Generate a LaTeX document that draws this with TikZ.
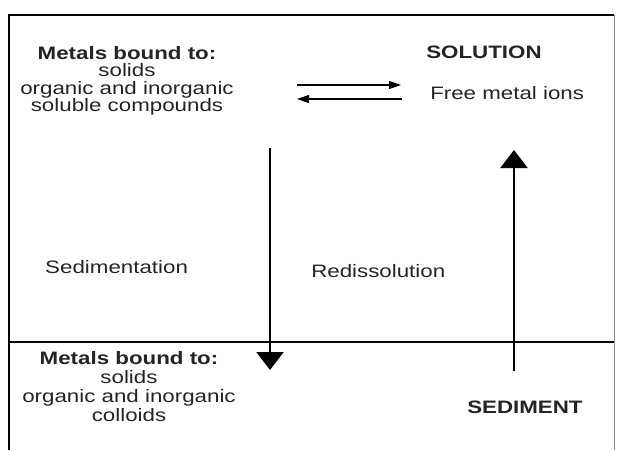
\documentclass[tikz,border=0pt]{standalone}
\usepackage{fontspec}
\setmainfont{Liberation Sans}
\usetikzlibrary{arrows.meta}
\definecolor{txt}{RGB}{35,35,40}
\begin{document}
\begin{tikzpicture}[x=1pt,y=-1pt,
  lbl/.style={inner sep=0pt,text=txt,xscale=1.24,font=\fontsize{18}{17.5}\selectfont},
  blk/.style={lbl,align=center},
  bigarrow/.style={line width=2.3pt,-{Triangle[width=27pt,length=18pt]}},
  smallarrow/.style={line width=1.1pt,-{Triangle[width=8pt,length=12pt]}},
  frame/.style={line width=2pt,black}]
\useasboundingbox (0,0) rectangle (618,450);
% frame
\draw[frame] (9,450) -- (9,15) -- (614,15);
\draw[line width=0.8pt,black!45] (614,15) -- (614,450);
\draw[line width=1.6pt] (9,342) -- (614,342);
% texts
\node[blk] (top) at (127,81) {\textbf{Metals bound to:}\\solids\\organic and inorganic\\soluble compounds};
\node[lbl,anchor=center] (sol) at (484,52) {\textbf{SOLUTION}};
\node[lbl,anchor=west] (free) at (430,93) {Free metal ions};
\node[lbl,anchor=west] (sed) at (45,267) {Sedimentation};
\node[lbl,anchor=west] (red) at (311,271) {Redissolution};
\node[blk,font=\fontsize{18}{19}\selectfont] (bot) at (129,386.5) {\textbf{Metals bound to:}\\solids\\organic and inorganic\\colloids};
\node[lbl,anchor=west] (sedi) at (467,407) {\textbf{SEDIMENT}};
% equilibrium arrows
\coordinate (a1) at (297,85);
\coordinate (a2) at (401,85);
\coordinate (b1) at (402,99);
\coordinate (b2) at (297,99);
\draw[smallarrow] (a1) -- (a2);
\draw[smallarrow] (b1) -- (b2);
% vertical arrows
\coordinate (d1) at (270,148);
\coordinate (d2) at (270,370);
\coordinate (u1) at (514,371);
\coordinate (u2) at (514,150);
\draw[bigarrow] (d1) -- (d2);
\draw[bigarrow] (u1) -- (u2);
\end{tikzpicture}
\end{document}
